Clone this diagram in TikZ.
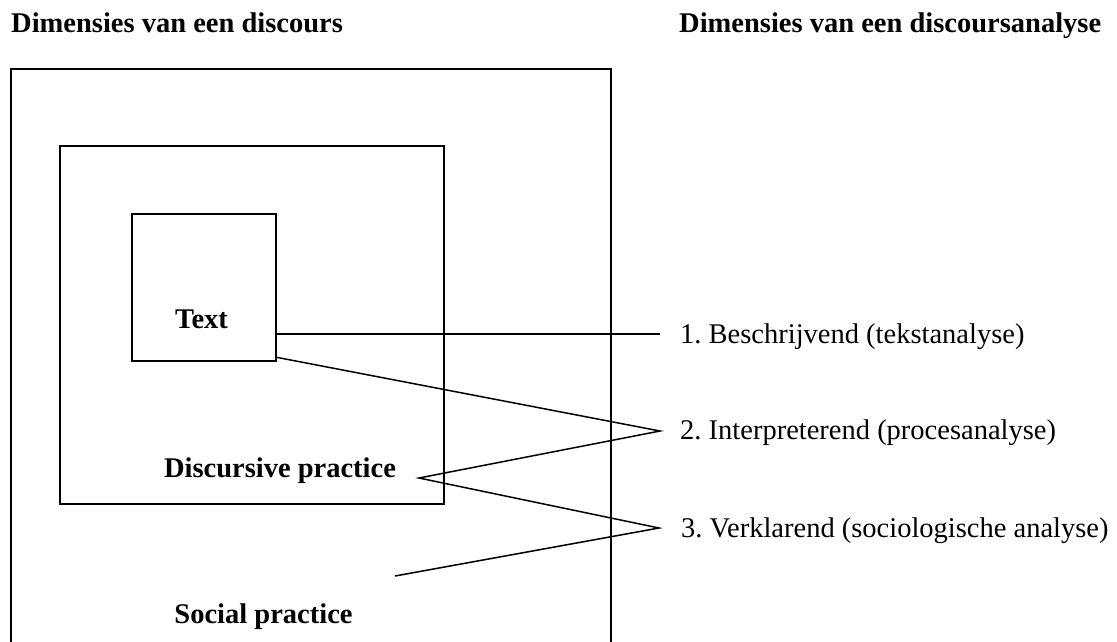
\documentclass[tikz,border=0pt]{standalone}
\usepackage{fontspec}
\setmainfont{Liberation Serif}
\frenchspacing
\begin{document}
\begin{tikzpicture}[x=1pt,y=-1pt,
  box/.style={draw,line width=1.5pt,inner sep=0pt,anchor=north west},
  conn/.style={line width=1.5pt},
  lbl/.style={inner sep=0pt,anchor=base west,font=\fontsize{28.5}{34}\selectfont},
  blbl/.style={inner sep=0pt,anchor=base,font=\fontsize{28.5}{34}\selectfont\bfseries},
  ttl/.style={inner sep=0pt,anchor=base west,font=\fontsize{28.5}{34}\selectfont\bfseries}]
\useasboundingbox (0,0) rectangle (1117,641);
\clip (0,0) rectangle (1117,641);
% titles
\node[ttl] (t1) at (11,32.3) {Dimensies van een discours};
\node[ttl] (t2) at (679,32.3) {Dimensies van een discoursanalyse};
% outer box (cut at bottom)
\draw[conn] (11,660) -- (11,69) -- (611,69) -- (611,660);
% middle and inner boxes
\node[box,minimum width=384pt,minimum height=358pt] (mid) at (59,145) {};
\node[box,minimum width=144pt,minimum height=147pt] (inner) at (131,213) {};
% box texts
\node[blbl] (text) at (201.5,328) {Text};
\node[blbl] (disc) at (280,477) {Discursive practice};
\node[blbl] (soc) at (263.5,623) {Social practice};
% right labels
\node[lbl] (l1) at (680,343.5) {1.\ Beschrijvend (tekstanalyse)};
\node[lbl] (l2) at (680,439.5) {2.\ Interpreterend (procesanalyse)};
\node[lbl] (l3) at (681,537.5) {3.\ Verklarend (sociologische analyse)};
% connector points
\coordinate (p1) at (660,334);
\coordinate (p2) at (660,431);
\coordinate (p3) at (659,528);
\coordinate (dp) at (419,478);
\coordinate (sp) at (395,576);
\coordinate (te) at (275,334);
\coordinate (ts) at (275,357);
% connectors
\draw[conn] (te) -- (p1);
\draw[conn] (ts) -- (p2) -- (dp) -- (p3) -- (sp);
\end{tikzpicture}
\end{document}
